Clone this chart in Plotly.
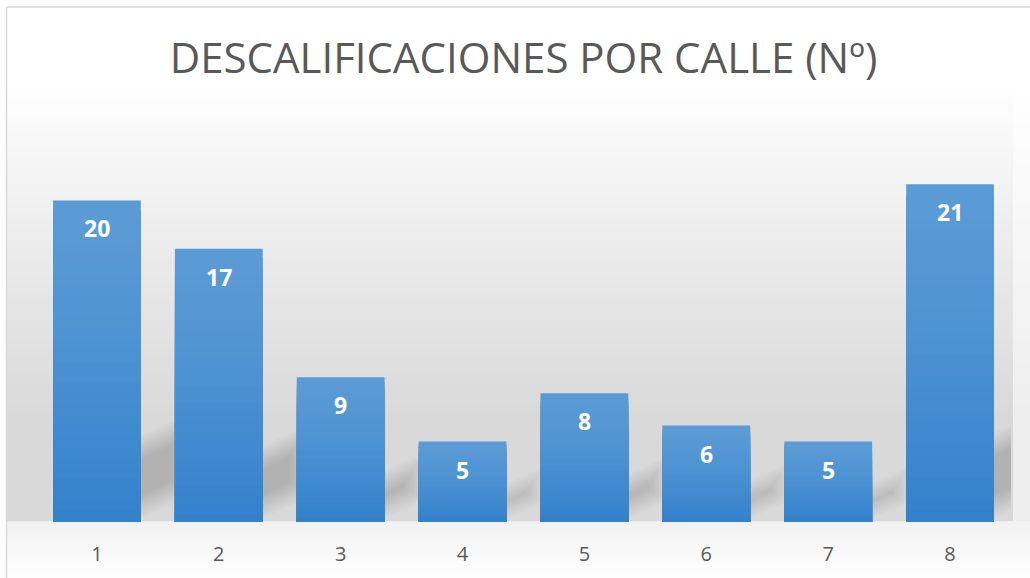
import plotly.graph_objects as go

# ---- data ----
categories = ["1", "2", "3", "4", "5", "6", "7", "8"]
values = [20, 17, 9, 5, 8, 6, 5, 21]
title_text = "DESCALIFICACIONES POR CALLE (Nº)"

# ---- layout geometry (pixels) ----
W, H = 1030, 578
ML, MR, MT, MB = 35.5, 19, 120, 56
YMAX = 25
PW = W - ML - MR
PH = H - MT - MB
px_per_x = PW / len(categories)
px_per_y = PH / YMAX
BAR_W = 0.72


def pxx(px):
    return (px - ML) / PW


def pxy(py):
    return (H - MB - py) / PH


def lerp(c1, c2, t):
    return tuple(round(a + (b - a) * t) for a, b in zip(c1, c2))


def rgb(c):
    return "rgb(%d,%d,%d)" % c


shapes = []

# background wall gradient
wall_x0, wall_x1 = 6, 1013
y_top, y_full, y_base = 90, 420, 522
N = 60
for k in range(N):
    y0 = y_top + (y_base - y_top) * k / N
    y1 = y_top + (y_base - y_top) * (k + 1) / N
    ym = (y0 + y1) / 2
    t = min(1.0, max(0.0, (ym - y_top) / (y_full - y_top)))
    t = t ** 0.9
    col = lerp((255, 255, 255), (217, 217, 217), t)
    shapes.append(dict(type="rect", xref="paper", yref="paper", layer="below",
                       x0=pxx(wall_x0), x1=pxx(wall_x1), y0=pxy(y1), y1=pxy(y0) + 0.002,
                       fillcolor=rgb(col), line=dict(width=0)))
    col2 = lerp((255, 255, 255), (238, 238, 238), t)
    shapes.append(dict(type="rect", xref="paper", yref="paper", layer="below",
                       x0=pxx(wall_x1), x1=pxx(W + 5), y0=pxy(y1), y1=pxy(y0) + 0.002,
                       fillcolor=rgb(col2), line=dict(width=0)))
# floor gradient
NF = 14
for k in range(NF):
    y0 = y_base + (H - y_base) * k / NF
    y1 = y_base + (H - y_base) * (k + 1) / NF
    t = (k + 0.5) / NF
    col = lerp((242, 242, 242), (254, 254, 254), t)
    shapes.append(dict(type="rect", xref="paper", yref="paper", layer="below",
                       x0=pxx(wall_x0), x1=pxx(W + 5), y0=pxy(y1), y1=pxy(y0) + 0.002,
                       fillcolor=rgb(col), line=dict(width=0)))

# soft shadows to the right of each bar (layered for blur)
for i, v in enumerate(values):
    xr = i + BAR_W / 2
    T = 22 + 3.2 * v
    Wd = 30 + 1.2 * v
    b0 = 4
    slope = 0.45
    for k in range(10):
        ins = k * 2.6
        ax, bx = -6, Wd - ins
        bot, top = b0 + ins, T - ins
        if top <= bot + 2 or bx <= 2:
            continue
        pts = [(ax, bot + slope * ax), (ax, top + slope * ax),
               (bx, top + slope * bx), (bx, bot + slope * bx)]
        path = "M " + " L ".join("%f,%f" % (xr + px / px_per_x, py / px_per_y) for px, py in pts) + " Z"
        shapes.append(dict(type="path", xref="x", yref="y", layer="below", path=path,
                           fillcolor="rgba(60,60,60,0.028)", line=dict(width=0)))

# chart border (left and top)
shapes.append(dict(type="line", xref="paper", yref="paper", x0=pxx(6), x1=pxx(6),
                   y0=pxy(H + 5), y1=pxy(7), line=dict(color="#d9d9d9", width=1.5)))
shapes.append(dict(type="line", xref="paper", yref="paper", x0=pxx(6), x1=pxx(W + 5),
                   y0=pxy(7), y1=pxy(7), line=dict(color="#d9d9d9", width=1.5)))

fig = go.Figure()

# gradient bars: overlay progressively shorter bars with darker colours
top_col = (91, 155, 213)
bot_col = (50, 128, 203)
NS = 30
for k in range(NS, 0, -1):
    frac = k / NS
    t = 1 - frac
    col = lerp(top_col, bot_col, t ** 1.3)
    fig.add_trace(go.Bar(x=categories, y=[v * frac for v in values],
                         marker=dict(color=rgb(col), line=dict(width=0)),
                         width=BAR_W, hoverinfo="skip", showlegend=False))

annotations = []
for i, v in enumerate(values):
    annotations.append(dict(x=i, y=v, xref="x", yref="y", text=str(v), showarrow=False,
                            yshift=-28, yanchor="middle",
                            font=dict(family="Open Sans", size=23, color="white", weight="bold")))

fig.update_layout(
    width=W, height=H,
    margin=dict(l=ML, r=MR, t=MT, b=MB, pad=0),
    barmode="overlay",
    paper_bgcolor="white",
    plot_bgcolor="rgba(0,0,0,0)",
    title=dict(text=title_text, x=0.5, xanchor="center", y=1 - 58 / H, yanchor="middle",
               xref="paper", font=dict(family="Open Sans", size=42, color="#595959")),
    xaxis=dict(type="category", range=[-0.5, len(categories) - 0.5], autorange=False,
               showgrid=False, zeroline=False, showline=False,
               ticks="outside", ticklen=14, tickcolor="rgba(0,0,0,0)",
               tickfont=dict(family="Open Sans", size=20, color="#595959")),
    yaxis=dict(range=[0, YMAX], visible=False, showgrid=False, zeroline=False),
    shapes=shapes,
    annotations=annotations,
)

fig.write_html("out.html", config={"displayModeBar": False},
               post_script="document.body.style.margin='0';document.body.style.overflow='hidden';")
